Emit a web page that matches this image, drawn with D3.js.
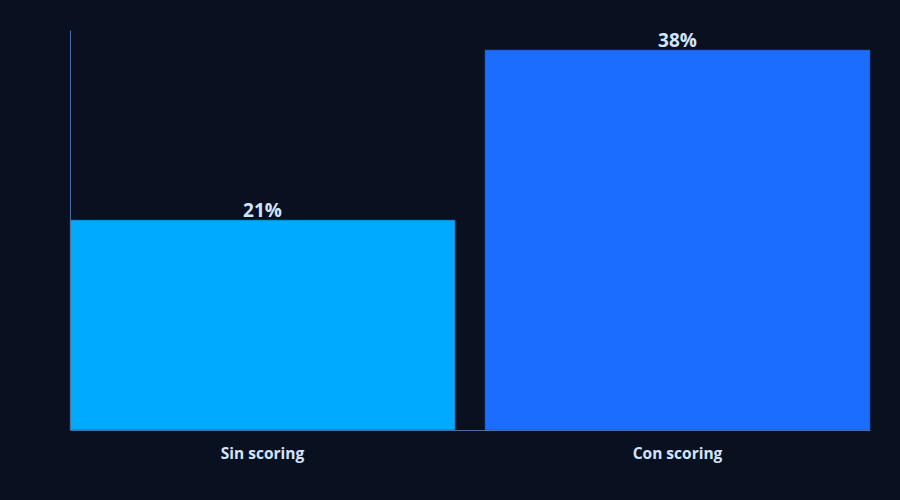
<!DOCTYPE html>
<html>
<head>
<meta charset="utf-8">
<script src="https://cdn.jsdelivr.net/npm/d3@7"></script>
<style>
  body { margin: 0; background: #091121; }
  text { font-family: "Open Sans", sans-serif; }
</style>
</head>
<body>
<div id="chart"></div>
<script>
// chart data
var categories = ['Sin scoring', 'Con scoring'];
var values = [21, 38];
var barColors = ['#00aaff', '#1a6dff'];

var svgWidth = 900;
var svgHeight = 500;
var margin = { top: 30, right: 30, bottom: 70, left: 70 };
var width = svgWidth - margin.left - margin.right;
var height = svgHeight - margin.top - margin.bottom;

var svg = d3.select('#chart')
    .append('svg')
    .attr('width', svgWidth)
    .attr('height', svgHeight)
    .style('background', '#091121');

var g = svg.append('g')
    .attr('transform', `translate(${margin.left}, ${margin.top})`);

var x = d3.scaleBand()
    .domain(categories)
    .range([0, width])
    .paddingInner(30 / 415)
    .paddingOuter(0);

var y = d3.scaleLinear()
    .domain([0, 40])
    .range([height, 0]);

// bars
g.selectAll('rect.bar')
    .data(values)
    .enter()
    .append('rect')
    .attr('class', 'bar')
    .attr('x', (d, i) => x(categories[i]))
    .attr('y', d => y(d))
    .attr('width', x.bandwidth())
    .attr('height', d => height - y(d))
    .attr('fill', (d, i) => barColors[i])
    .attr('stroke', '#1f4f8f')
    .attr('stroke-width', 1)
    .attr('stroke-opacity', 0.6);

// value labels
g.selectAll('text.val')
    .data(values)
    .enter()
    .append('text')
    .attr('class', 'val')
    .attr('x', (d, i) => x(categories[i]) + x.bandwidth() / 2)
    .attr('y', d => y(d) - 3)
    .attr('text-anchor', 'middle')
    .attr('font-size', 19)
    .attr('font-weight', 700)
    .attr('fill', '#d4e4ff')
    .text(d => d + '%');

// axes
var xAxis = g.append('g')
    .attr('transform', `translate(0, ${height})`)
    .call(d3.axisBottom(x).tickSize(0).tickPadding(18));
xAxis.select('.domain').attr('stroke', '#4a6fa5');
xAxis.selectAll('text')
    .attr('font-size', 15.5)
    .attr('font-weight', 700)
    .attr('fill', '#d4e4ff')
    .style('font-family', '"Open Sans", sans-serif');

var yAxis = g.append('g')
    .call(d3.axisLeft(y).tickSize(0).tickValues([]));
yAxis.select('.domain').attr('stroke', '#4a6fa5');
</script>
</body>
</html>
